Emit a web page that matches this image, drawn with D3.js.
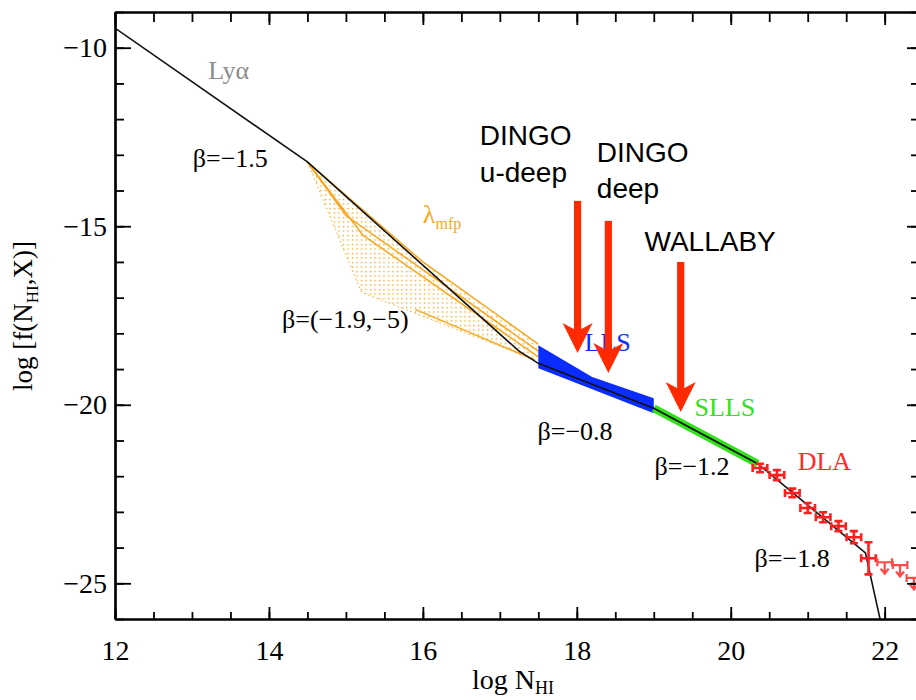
<!DOCTYPE html>
<html>
<head>
<meta charset="utf-8">
<script src="https://cdn.jsdelivr.net/npm/d3@7"></script>
<style>
  body { margin: 0; background: #fff; }
  svg { display: block; }
  text { font-family: "Liberation Serif", "Times New Roman", serif; }
  .sans { font-family: "Liberation Sans", Arial, Helvetica, sans-serif; }
</style>
</head>
<body>
<svg></svg>
<script>
// ====== données ====== //

// ligne noire f(N_HI) : noeuds [logN, log f]
const modelNodes = [[12, -9.45], [14.5, -13.2], [17.25, -18.5], [17.5, -18.84], [19.0, -20.1], [20.35, -21.65], [21.75, -24.15], [21.95, -26.1]];

// bande LLS (bleue) : bord haut puis bord bas
const llsTop = [[17.5, -18.33], [18.2, -19.22], [19.0, -19.82]];
const llsBottom = [[19.0, -20.24], [17.5, -18.98]];

// bande SLLS (verte)
const sllsNodes = [[19.0, -20.1], [20.35, -21.65]];

// éventail lambda_mfp (orange)
const fanApex = [14.5, -13.2];
const fanLines = [
  [[14.5, -13.2], [16.0, -16.0], [17.5, -18.3]],
  [[14.5, -13.2], [15.0, -14.7], [17.5, -18.5]],
  [[14.5, -13.2], [15.22, -15.25], [17.5, -18.66]],
  [[15.9, -17.33], [17.45, -18.74]]
];
const fanUpper = [[14.5, -13.2], [16.0, -16.0], [17.5, -18.3]];
const fanLower = [[17.45, -18.74], [15.2, -16.85], [14.5, -13.2]];

// points DLA (mesures avec barres d'erreur)
const dlaX = [20.38, 20.6, 20.8, 21.0, 21.2, 21.4, 21.6, 21.79];
const dlaY = [-21.77, -21.97, -22.47, -22.89, -23.15, -23.40, -23.71, -24.3];
const dlaErr = [0.12, 0.14, 0.12, 0.14, 0.14, 0.14, 0.17, 0.45];
// limites supérieures
const limX = [22.0, 22.2, 22.38];
const limY = [-24.41, -24.49, -24.85];

// flèches des relevés HI
const surveyNames = [["DINGO", "u-deep"], ["DINGO", "deep"], ["WALLABY"]];
const surveyX = [18.01, 18.41, 19.35];
const surveyTop = [-14.29, -14.85, -16.0];
const surveyTip = [-18.55, -19.11, -20.2];
const surveyLabelX = [16.74, 18.26, 18.88];
const surveyLabelY = [-12.73, -13.2, -15.68];

// annotations
const notes = [
  {t: "Lyα", x: 13.21, y: -10.88, c: "#8c8c8c"},
  {t: "β=−1.5", x: 13.01, y: -13.34, c: "#000"},
  {t: "β=(−1.9,−5)", x: 14.17, y: -17.85, c: "#000"},
  {t: "LLS", x: 18.10, y: -18.50, c: "#0a2cff"},
  {t: "β=−0.8", x: 17.49, y: -20.99, c: "#000"},
  {t: "SLLS", x: 19.53, y: -20.32, c: "#33e01c"},
  {t: "β=−1.2", x: 19.01, y: -21.97, c: "#000"},
  {t: "DLA", x: 20.87, y: -21.83, c: "#ff2a2a"},
  {t: "β=−1.8", x: 20.31, y: -24.55, c: "#000"}
];

// ticks
const xMajor = [12, 14, 16, 18, 20, 22];
const xMinor = d3.range(12, 22.5, 0.5);
const yMajor = [-25, -20, -15, -10];
const yMinor = d3.range(-26, -8.9, 1);

// ====== mise en page ====== //
const width = 916, height = 700;
const plot = {left: 115, right: 917, top: 12, bottom: 619};
const orange = "#f6a821";

const svg = d3.select("svg").attr("width", width).attr("height", height);

const x = d3.scaleLinear().domain([12, 22.42]).range([plot.left, plot.right]);
const y = d3.scaleLinear().domain([-26, -9]).range([plot.bottom, plot.top]);

const line = d3.line().x(d => x(d[0])).y(d => y(d[1]));

svg.append("clipPath").attr("id", "clip")
  .append("rect")
  .attr("x", plot.left).attr("y", plot.top)
  .attr("width", plot.right - plot.left).attr("height", plot.bottom - plot.top);

// motif pointillé pour l'éventail
const pat = svg.append("defs").append("pattern")
  .attr("id", "dots").attr("patternUnits", "userSpaceOnUse")
  .attr("width", 4.5).attr("height", 4.5);
pat.append("circle").attr("cx", 1.5).attr("cy", 1.5).attr("r", 0.8).attr("fill", orange);

const g = svg.append("g").attr("clip-path", "url(#clip)");

// éventail
g.append("path")
  .attr("d", line(fanUpper.concat(fanLower)) + "Z")
  .attr("fill", "url(#dots)");
g.append("path")
  .attr("d", line([fanApex, fanLower[1], fanLower[0]]))
  .attr("fill", "none").attr("stroke", orange).attr("stroke-width", 1)
  .attr("stroke-dasharray", "1.5,3");
g.selectAll(".fan").data(fanLines).enter().append("path")
  .attr("class", "fan")
  .attr("d", line)
  .attr("fill", "none").attr("stroke", orange).attr("stroke-width", 1.5);

// bande LLS
g.append("path")
  .attr("d", line(llsTop.concat(llsBottom)) + "Z")
  .attr("fill", "#0a2cff");

// bande SLLS
g.append("path")
  .attr("d", line(sllsNodes))
  .attr("fill", "none").attr("stroke", "#33e01c").attr("stroke-width", 8);

// modèle
g.append("path")
  .attr("d", line(modelNodes))
  .attr("fill", "none").attr("stroke", "#111").attr("stroke-width", 1.6);

// points DLA
const red = "#ff1f1f";
const hw = 0.095, cap = 4;
const dla = g.selectAll(".dla").data(dlaX.map((d, i) => i)).enter().append("g")
  .attr("class", "dla").attr("stroke", red).attr("stroke-width", 2.6).attr("fill", "none");
dla.append("path")
  .attr("d", i => {
    const x0 = x(dlaX[i] - hw), x1 = x(dlaX[i] + hw), yy = y(dlaY[i]);
    return `M${x0},${yy}H${x1}M${x0},${yy - cap}V${yy + cap}M${x1},${yy - cap}V${yy + cap}`;
  });
dla.append("path")
  .attr("d", i => {
    const xc = x(dlaX[i]), y0 = y(dlaY[i] + dlaErr[i]), y1 = y(dlaY[i] - dlaErr[i]);
    return `M${xc},${y0}V${y1}M${xc - cap},${y0}H${xc + cap}M${xc - cap},${y1}H${xc + cap}`;
  });

const lim = g.selectAll(".lim").data(limX.map((d, i) => i)).enter().append("g")
  .attr("class", "lim").attr("stroke", "#ff4a4a").attr("stroke-width", 2.2).attr("fill", "none");
lim.append("path")
  .attr("d", i => {
    const x0 = x(limX[i] - hw), x1 = x(limX[i] + hw), yy = y(limY[i]);
    return `M${x0},${yy}H${x1}M${x0},${yy - cap}V${yy + cap}M${x1},${yy - cap}V${yy + cap}`;
  });
lim.append("path")
  .attr("d", i => {
    const xc = x(limX[i]), y0 = y(limY[i]), y1 = y(limY[i] - 0.32);
    return `M${xc},${y0}V${y1}M${xc - 4},${y1 - 5}L${xc},${y1}L${xc + 4},${y1 - 5}`;
  });

// ====== axes ====== //
const axisFont = 28;
function styleAxis(sel) {
  sel.select(".domain").attr("stroke-width", 2.2);
  sel.selectAll(".tick line").attr("stroke-width", 1.8);
  sel.selectAll("text").attr("font-size", axisFont)
    .attr("font-family", "Liberation Serif, Times New Roman, serif").attr("fill", "#000");
}

svg.append("g").attr("transform", `translate(0,${plot.bottom})`)
  .call(d3.axisBottom(x).tickValues(xMinor).tickSize(-7).tickSizeOuter(0).tickFormat(""))
  .call(styleAxis);
svg.append("g").attr("transform", `translate(0,${plot.bottom})`)
  .call(d3.axisBottom(x).tickValues(xMajor).tickSize(-12).tickSizeOuter(0).tickPadding(21).tickFormat(d3.format("d")))
  .call(styleAxis);
svg.append("g").attr("transform", `translate(0,${plot.top})`)
  .call(d3.axisTop(x).tickValues(xMinor).tickSize(-10).tickSizeOuter(0).tickFormat(""))
  .call(styleAxis);
svg.append("g").attr("transform", `translate(0,${plot.top})`)
  .call(d3.axisTop(x).tickValues(xMajor).tickSize(-13).tickSizeOuter(0).tickFormat(""))
  .call(styleAxis);

svg.append("g").attr("transform", `translate(${plot.left},0)`)
  .call(d3.axisLeft(y).tickValues(yMinor).tickSize(-9).tickSizeOuter(0).tickFormat(""))
  .call(styleAxis);
svg.append("g").attr("transform", `translate(${plot.left},0)`)
  .call(d3.axisLeft(y).tickValues(yMajor).tickSize(-16).tickSizeOuter(0).tickPadding(8).tickFormat(d3.format("d")))
  .call(styleAxis);
svg.append("g").attr("transform", `translate(${plot.right},0)`)
  .call(d3.axisRight(y).tickValues(yMinor).tickSize(-6).tickSizeOuter(0).tickFormat(""))
  .call(styleAxis);
svg.append("g").attr("transform", `translate(${plot.right},0)`)
  .call(d3.axisRight(y).tickValues(yMajor).tickSize(-10).tickSizeOuter(0).tickFormat(""))
  .call(styleAxis);

// titres des axes
const xt = svg.append("text").attr("x", 472).attr("y", 689).attr("font-size", 28);
xt.append("tspan").text("log N");
xt.append("tspan").attr("font-size", 18).attr("dy", 5).text("HI");

const yt = svg.append("text")
  .attr("transform", "translate(32,316) rotate(-90)")
  .attr("text-anchor", "middle").attr("font-size", 27);
yt.append("tspan").text("log [f(N");
yt.append("tspan").attr("font-size", 17).attr("dy", 6).text("HI");
yt.append("tspan").attr("dy", -6).text(",X)]");

// annotations
svg.selectAll(".note").data(notes).enter().append("text")
  .attr("class", "note")
  .attr("x", d => x(d.x)).attr("y", d => y(d.y))
  .attr("font-size", 26).attr("fill", d => d.c)
  .text(d => d.t);

const lam = svg.append("text").attr("x", x(16.0)).attr("y", y(-14.91))
  .attr("font-size", 26).attr("fill", orange);
lam.append("tspan").text("λ");
lam.append("tspan").attr("font-size", 16).attr("dy", 6).text("mfp");

// flèches et noms des relevés
const arrowRed = "#ff2a00";
surveyX.forEach((sx, i) => {
  const xc = x(sx), top = y(surveyTop[i]), tip = y(surveyTip[i]);
  svg.append("rect")
    .attr("x", xc - 3.6).attr("y", top).attr("width", 7.2).attr("height", tip - top - 18)
    .attr("fill", arrowRed);
  svg.append("path")
    .attr("d", `M${xc - 15},${tip - 30}L${xc},${tip}L${xc + 15},${tip - 30}L${xc},${tip - 22}Z`)
    .attr("fill", arrowRed);
  const t = svg.append("text").attr("class", "sans")
    .attr("x", x(surveyLabelX[i])).attr("y", y(surveyLabelY[i]))
    .attr("font-size", 28).attr("fill", "#000");
  surveyNames[i].forEach((s, j) => {
    t.append("tspan").attr("x", x(surveyLabelX[i])).attr("dy", j === 0 ? 0 : 36.5).text(s);
  });
});
</script>
</body>
</html>
